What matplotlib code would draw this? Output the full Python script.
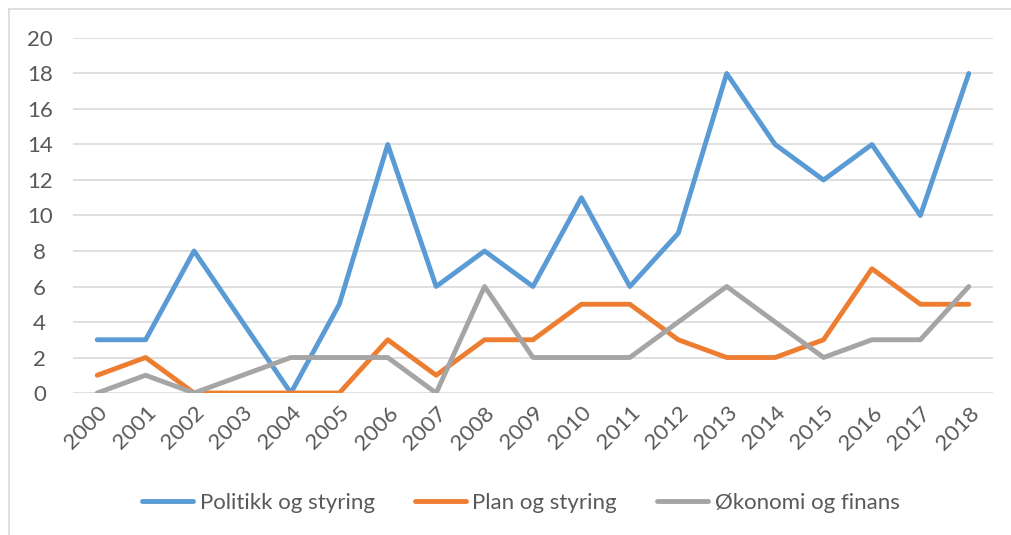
import matplotlib.pyplot as plt
from matplotlib.lines import Line2D

years = [str(y) for y in range(2000, 2019)]
politikk = [3, 3, 8, 4, 0, 5, 14, 6, 8, 6, 11, 6, 9, 18, 14, 12, 14, 10, 18]
plan = [1, 2, 0, 0, 0, 0, 3, 1, 3, 3, 5, 5, 3, 2, 2, 3, 7, 5, 5]
okonomi = [0, 1, 0, 1, 2, 2, 2, 0, 6, 2, 2, 2, 4, 6, 4, 2, 3, 3, 6]

plt.rcParams['font.family'] = ['Lato', 'DejaVu Sans']
txt = '#595959'

fig = plt.figure(figsize=(10.11, 5.35), dpi=100)
ax = fig.add_axes([0.0722, 0.2654, 0.9100, 0.6636])

x = range(len(years))
ax.plot(x, politikk, color='#5B9BD5', lw=3.5, solid_capstyle='round', solid_joinstyle='round', label='Politikk og styring')
ax.plot(x, plan, color='#ED7D31', lw=3.5, solid_capstyle='round', solid_joinstyle='round', label='Plan og styring')
ax.plot(x, okonomi, color='#A5A5A5', lw=3.5, solid_capstyle='round', solid_joinstyle='round', label='Økonomi og finans')

ax.set_xlim(-0.5, len(years) - 0.5)
ax.set_ylim(0, 20)
ax.set_yticks(range(0, 21, 2))
ax.set_xticks(list(x))
ax.set_xticklabels(years, rotation=45, ha='right', va='top', rotation_mode='anchor')
ax.grid(axis='y', color='#D9D9D9', lw=1.2)
ax.set_axisbelow(True)
for s in ax.spines.values():
    s.set_visible(False)
ax.tick_params(length=0, labelsize=16, colors=txt)
ax.tick_params(axis='y', pad=24)
ax.tick_params(axis='x', pad=7)
for lab in ax.get_yticklabels():
    lab.set_horizontalalignment('center')

# chart frame
fig.add_artist(Line2D([0.009, 1.0], [0.983, 0.983], color='#D9D9D9', lw=1.2, transform=fig.transFigure))
fig.add_artist(Line2D([0.009, 0.009], [0.0, 0.983], color='#D9D9D9', lw=1.2, transform=fig.transFigure))

fig.legend(loc='center', bbox_to_anchor=(0.515, 0.06), ncol=3, frameon=False,
           fontsize=16, handlelength=2.3, handletextpad=0.3, columnspacing=1.8,
           labelcolor=txt)

fig.savefig('out.png', dpi=100)
